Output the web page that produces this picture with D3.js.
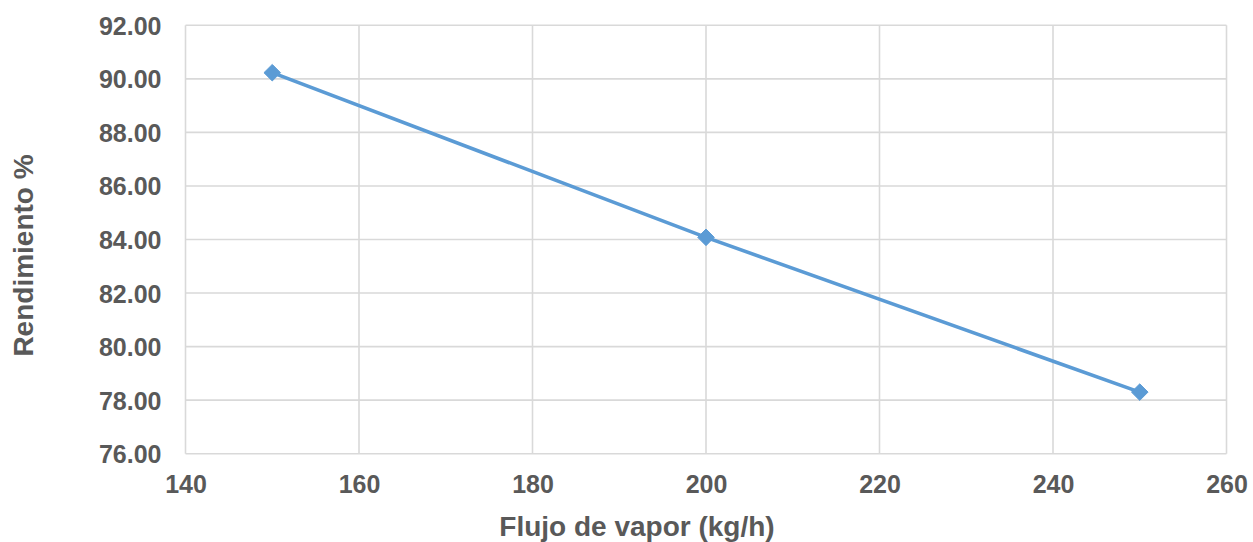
<!DOCTYPE html>
<html>
<head>
<meta charset="utf-8">
<script src="https://cdn.jsdelivr.net/npm/d3@7"></script>
<style>
  html, body { margin: 0; padding: 0; background: #fff; }
  svg { display: block; }
  text { font-family: "Liberation Sans", Arial, sans-serif; font-weight: bold; fill: #595959; }
</style>
</head>
<body>
<svg id="chart" width="1253" height="542"></svg>
<script>
// Steam flow (kg/h) vs. yield (%)
const flujo = [150, 200, 250];
const rendimiento = [90.23, 84.08, 78.30];
const xTicks = [140, 160, 180, 200, 220, 240, 260];
const yTicks = [76, 78, 80, 82, 84, 86, 88, 90, 92];
const xTitle = "Flujo de vapor (kg/h)";
const yTitle = "Rendimiento %";

const svg = d3.select("#chart");
const plotLeft = 185.5, plotRight = 1226.5, plotTop = 25.3, plotBottom = 453.7;

const x = d3.scaleLinear().domain([140, 260]).range([plotLeft, plotRight]);
const y = d3.scaleLinear().domain([76, 92]).range([plotBottom, plotTop]);

// Gridlines
const grid = svg.append("g").attr("stroke", "#d9d9d9").attr("stroke-width", 1.6);
grid.selectAll("line.v").data(xTicks).join("line").attr("class", "v")
  .attr("x1", d => x(d)).attr("x2", d => x(d))
  .attr("y1", plotTop).attr("y2", plotBottom);
grid.selectAll("line.h").data(yTicks).join("line").attr("class", "h")
  .attr("x1", plotLeft).attr("x2", plotRight)
  .attr("y1", d => y(d)).attr("y2", d => y(d));

// Y axis labels
const yAxis = d3.axisLeft(y).tickValues(yTicks).tickFormat(d3.format(".2f")).tickSize(0).tickPadding(24);
const gy = svg.append("g").attr("transform", `translate(${plotLeft},0)`).call(yAxis);
gy.select(".domain").remove();
gy.selectAll("text").attr("font-size", 25).attr("dy", "0.36em")
  .style("font-family", "'Liberation Sans', Arial, sans-serif").style("font-weight", "bold").attr("fill", "#595959");

// X axis labels
const xAxis = d3.axisBottom(x).tickValues(xTicks).tickFormat(d3.format("d")).tickSize(0).tickPadding(22);
const gx = svg.append("g").attr("transform", `translate(0,${plotBottom})`).call(xAxis);
gx.select(".domain").remove();
gx.selectAll("text").attr("font-size", 25).attr("dy", "0.71em")
  .style("font-family", "'Liberation Sans', Arial, sans-serif").style("font-weight", "bold").attr("fill", "#595959");

// Axis titles
svg.append("text").attr("x", 637).attr("y", 536)
  .attr("text-anchor", "middle").attr("font-size", 28).text(xTitle);
svg.append("text")
  .attr("transform", "translate(33,255.5) rotate(-90)")
  .attr("text-anchor", "middle").attr("font-size", 28).text(yTitle);

// Series line and markers
const pts = flujo.map((f, i) => [f, rendimiento[i]]);
svg.append("path").datum(pts)
  .attr("fill", "none").attr("stroke", "#5b9bd5").attr("stroke-width", 3.6)
  .attr("stroke-linejoin", "round")
  .attr("d", d3.line().x(d => x(d[0])).y(d => y(d[1])));

svg.append("g").selectAll("path").data(pts).join("path")
  .attr("transform", d => `translate(${x(d[0])},${y(d[1])})`)
  .attr("d", d3.symbol().type(d3.symbolDiamond2).size(175))
  .attr("fill", "#5b9bd5").attr("stroke", "#5b9bd5").attr("stroke-width", 1);
</script>
</body>
</html>
